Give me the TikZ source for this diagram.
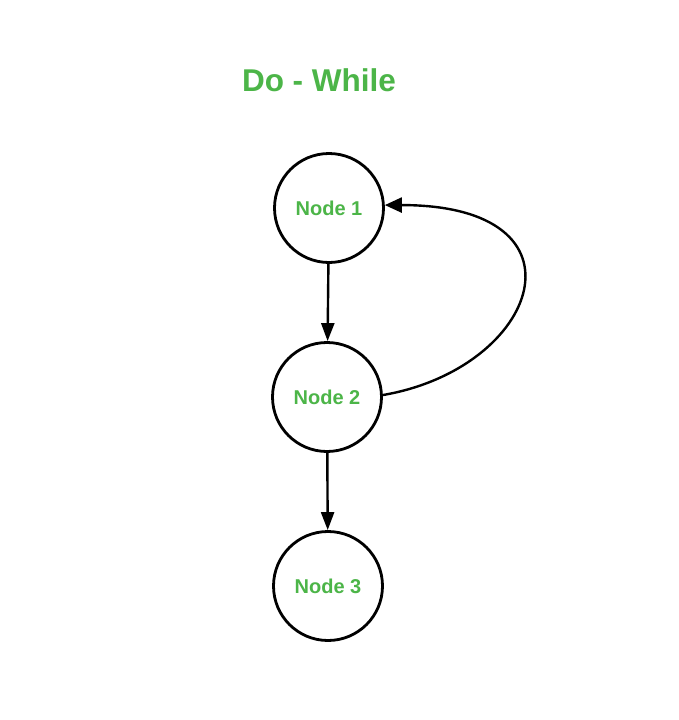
\documentclass[tikz,border=0pt]{standalone}
\usepackage{fontspec}
\setmainfont{Liberation Sans}
\usetikzlibrary{arrows.meta}
\definecolor{gfg}{RGB}{76,181,72}
\begin{document}
\begin{tikzpicture}[x=1pt,y=-1pt,
  nodecirc/.style={circle,draw=black,line width=2.8pt,minimum size=109pt,inner sep=0pt,
    text=gfg,font=\fontsize{20}{22}\selectfont\bfseries},
  conn/.style={line width=2.4pt,-{Triangle[length=18pt,width=13pt]}}]
\useasboundingbox (0,0) rectangle (678,720);
\fill[white] (0,0) rectangle (678,720);
\node[text=gfg,font=\fontsize{31.5}{36}\selectfont\bfseries] (title) at (319,80) {Do - While};
\node[nodecirc] (n1) at (329,208) {\raisebox{-3pt}{Node 1}};
\node[nodecirc] (n2) at (327,397) {\raisebox{-3pt}{Node 2}};
\node[nodecirc] (n3) at (328,586) {\raisebox{-2pt}{Node 3}};
\draw[conn] (n1) -- (n2);
\draw[conn] (n2) -- (n3);
\draw[line width=2.4pt,-{Triangle[length=17pt,width=15pt]}] (n2.2) .. controls (540,368) and (596,205) .. (n1.3);
\end{tikzpicture}
\end{document}
